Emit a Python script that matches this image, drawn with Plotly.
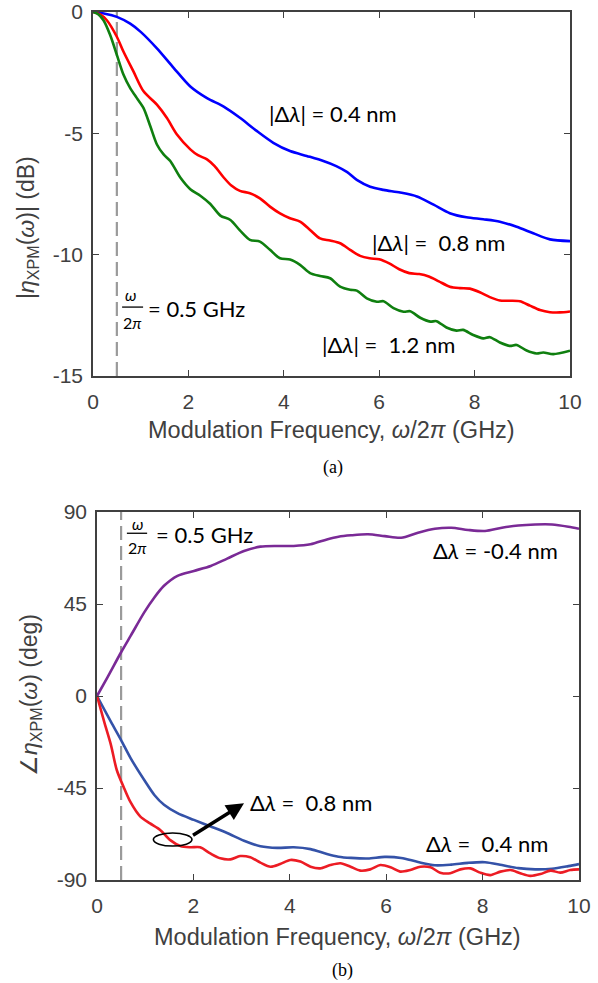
import plotly.graph_objects as go

W, H = 598, 983

# ---------------- data: panel (a) magnitude (dB) ----------------
a_blue_x = [0, 0.25, 0.5, 0.78, 1.0, 1.34, 1.69, 2.04, 2.39, 2.74, 3.08, 3.43, 3.78, 4.13, 4.48, 4.83,
            5.1, 5.33, 5.53, 5.81, 6.09, 6.44, 6.79, 7.14, 7.48, 7.83, 8.18, 8.53, 8.88, 9.23, 9.58, 10]
a_blue_y = [0, -0.07, -0.2, -0.48, -0.82, -1.5, -2.3, -3.07, -3.55, -3.9, -4.36, -4.9, -5.39, -5.73, -5.93, -6.14,
            -6.35, -6.6, -6.92, -7.2, -7.33, -7.44, -7.6, -7.94, -8.29, -8.46, -8.54, -8.64, -8.85, -9.12, -9.37, -9.44]

a_red_x = [0, 0.15, 0.29, 0.5, 0.64, 0.85, 1.06, 1.34, 1.55, 1.76, 2.04, 2.2, 2.39, 2.55, 2.74, 2.9, 3.08,
           3.29, 3.5, 3.71, 3.92, 4.13, 4.34, 4.55, 4.76, 4.97, 5.18, 5.39, 5.6, 5.8, 6.0, 6.21, 6.42, 6.63,
           6.84, 7.04, 7.25, 7.48, 7.69, 7.9, 8.11, 8.32, 8.53, 8.74, 8.95, 9.16, 9.37, 9.58, 9.79, 10]
a_red_y = [0, -0.1, -0.34, -1.02, -1.64, -2.46, -3.27, -3.82, -4.37, -5.05, -5.66, -5.9, -6.07, -6.35, -6.82,
           -7.15, -7.37, -7.47, -7.68, -8.02, -8.3, -8.5, -8.64, -8.98, -9.33, -9.42, -9.53, -9.8, -10.05,
           -10.15, -10.19, -10.36, -10.6, -10.76, -10.8, -10.9, -11.1, -11.32, -11.38, -11.4, -11.55, -11.75,
           -11.89, -11.9, -11.92, -12.1, -12.28, -12.37, -12.38, -12.34]

a_green_x = [0, 0.1, 0.22, 0.36, 0.5, 0.64, 0.78, 0.92, 1.06, 1.2, 1.34, 1.48, 1.62, 1.83, 2.04, 2.25, 2.46,
             2.67, 2.88, 3.08, 3.29, 3.5, 3.71, 3.92, 4.13, 4.34, 4.55, 4.76, 4.97, 5.18, 5.39, 5.53, 5.74,
             5.95, 6.09, 6.3, 6.51, 6.65, 6.86, 7.07, 7.2, 7.41, 7.62, 7.76, 7.97, 8.18, 8.32, 8.53, 8.74,
             8.88, 9.09, 9.3, 9.44, 9.65, 10]
a_green_y = [0, -0.08, -0.34, -0.95, -1.77, -2.59, -3.14, -3.55, -3.96, -4.7, -5.46, -5.87, -6.14, -6.82,
             -7.3, -7.57, -7.91, -8.39, -8.57, -9.0, -9.39, -9.46, -9.8, -10.15, -10.2, -10.42, -10.76,
             -10.88, -10.97, -11.32, -11.45, -11.48, -11.8, -11.94, -11.92, -12.2, -12.35, -12.33, -12.6,
             -12.76, -12.74, -13.0, -13.13, -13.1, -13.31, -13.45, -13.4, -13.62, -13.76, -13.72, -13.95,
             -14.07, -14.03, -14.1, -13.96]

# ---------------- data: panel (b) phase (deg) ----------------
b_purple_x = [0, 0.22, 0.5, 0.7, 0.98, 1.19, 1.39, 1.67, 2.01, 2.36, 2.7, 3.05, 3.39, 3.74, 4.08, 4.43,
              4.77, 5.01, 5.27, 5.62, 5.97, 6.31, 6.66, 7.01, 7.35, 7.7, 8.05, 8.4, 8.74, 9.09, 9.44, 9.78, 10]
b_purple_y = [0, 9.25, 21.4, 29.5, 40.9, 48.2, 53.9, 58.8, 61.2, 63.6, 67.2, 70.9, 73.05, 73.4, 73.4, 74.2,
              76.6, 77.9, 78.6, 79.1, 78.2, 77.4, 79.9, 81.8, 82.3, 81.2, 80.7, 82.3, 83.4, 83.9, 83.9, 82.8, 81.8]

b_blue_x = [0, 0.29, 0.5, 0.7, 0.98, 1.19, 1.39, 1.67, 2.01, 2.36, 2.7, 3.05, 3.39, 3.74, 4.08, 4.43,
            4.77, 5.01, 5.27, 5.62, 5.97, 6.31, 6.66, 7.01, 7.35, 7.7, 8.05, 8.4, 8.74, 9.09, 9.44, 9.78, 10]
b_blue_y = [0, -12.7, -21.6, -30.5, -41.1, -48.4, -53.2, -57.3, -60.6, -63.8, -67, -70.8, -73.5, -74.3, -74,
            -74.9, -77.3, -78.6, -79.2, -79.5, -78.7, -79.2, -81.2, -82.8, -82.5, -81.6, -81.3, -82.7, -84.2,
            -84.8, -84.5, -83.2, -82.2]

b_red_x = [0, 0.15, 0.29, 0.41, 0.55, 0.69, 0.9, 1.1, 1.31, 1.52, 1.73, 1.94, 2.14, 2.35, 2.56, 2.77, 2.97,
           3.18, 3.39, 3.6, 3.8, 4.01, 4.22, 4.43, 4.63, 4.84, 5.05, 5.26, 5.46, 5.67, 5.88, 6.09, 6.29, 6.5,
           6.71, 6.92, 7.12, 7.33, 7.54, 7.75, 7.95, 8.16, 8.37, 8.58, 8.78, 8.99, 9.2, 9.41, 9.61, 9.82, 10]
b_red_y = [0, -12.7, -24, -36.2, -44.4, -51.7, -59, -62.3, -65.5, -70.5, -73.4, -74, -74, -77, -79.4, -79.9,
           -78.3, -78.9, -81.5, -83.5, -82.2, -80.2, -81, -83.5, -84.3, -82.7, -81.8, -83.5, -85.4, -84.8,
           -82.7, -83.8, -85.9, -85.1, -83.5, -83.8, -86.4, -86.7, -84.8, -84.3, -86.4, -87.6, -85.9, -85.1,
           -86.7, -88, -87.1, -85.4, -86.4, -85.1, -84.8]

marker_freq = 0.5
x_ticks = [0, 2, 4, 6, 8, 10]
x_ticktext = ["0", "2", "4", "6", "8", "10"]
a_y_ticks = [0, -5, -10, -15]
a_y_ticktext = ["0", "-5", "-10", "-15"]
b_y_ticks = [90, 45, 0, -45, -90]
b_y_ticktext = ["90", "45", "0", "-45", "-90"]
a_range = [-15, 0]
b_range = [-90, 90]

# ---------------- figure ----------------
fig = go.Figure()
LW = 2.6

def line(x, y, color, xa, ya):
    fig.add_trace(go.Scatter(x=x, y=y, mode="lines", line=dict(color=color, width=LW, shape="spline", smoothing=0.8),
                             xaxis=xa, yaxis=ya, showlegend=False, hoverinfo="skip"))

dash = dict(color="#9a9a9a", width=2.2, dash="14px,6px")
fig.add_trace(go.Scatter(x=[marker_freq, marker_freq], y=a_range, mode="lines", line=dash,
                         xaxis="x", yaxis="y", showlegend=False, hoverinfo="skip"))
fig.add_trace(go.Scatter(x=[marker_freq, marker_freq], y=b_range, mode="lines", line=dash,
                         xaxis="x2", yaxis="y2", showlegend=False, hoverinfo="skip"))

line(a_blue_x, a_blue_y, "#0000ff", "x", "y")
line(a_red_x, a_red_y, "#ff0000", "x", "y")
line(a_green_x, a_green_y, "#0f7f0f", "x", "y")

line(b_purple_x, b_purple_y, "#7a2a96", "x2", "y2")
line(b_blue_x, b_blue_y, "#3452a8", "x2", "y2")
line(b_red_x, b_red_y, "#ec1c24", "x2", "y2")

AX = "#404040"
tickfont = dict(family="Liberation Sans, Arial, sans-serif", size=21, color=AX)
common = dict(showline=True, linecolor=AX, linewidth=1.5, mirror="ticks", ticks="inside", ticklen=6,
              tickwidth=1.3, tickcolor=AX, showgrid=False, zeroline=False, tickfont=tickfont, automargin=False)

fig.update_layout(
    width=W, height=H, margin=dict(l=0, r=0, t=0, b=0),
    paper_bgcolor="white", plot_bgcolor="white",
    xaxis=dict(domain=[93 / W, 570 / W], anchor="y", range=[0, 10], tickvals=x_ticks, ticktext=x_ticktext,
               ticklabelstandoff=6, **common),
    yaxis=dict(domain=[1 - 376 / H, 1 - 12 / H], anchor="x", range=a_range, tickvals=a_y_ticks,
               ticktext=a_y_ticktext, ticklabelstandoff=4, **common),
    xaxis2=dict(domain=[97 / W, 579 / W], anchor="y2", range=[0, 10], tickvals=x_ticks, ticktext=x_ticktext,
                ticklabelstandoff=6, **common),
    yaxis2=dict(domain=[1 - 880 / H, 1 - 512 / H], anchor="x2", range=b_range, tickvals=b_y_ticks,
                ticktext=b_y_ticktext, ticklabelstandoff=4, **common),
)

ann = []
titlefont = dict(family="Liberation Sans, Arial, sans-serif", size=23.5, color=AX)
ytitlefont = dict(family="Liberation Sans, Arial, sans-serif", size=23, color=AX)

def pann(text, px, py, font, angle=0):
    ann.append(dict(text=text, x=px / W, y=1 - py / H, xref="paper", yref="paper", showarrow=False,
                    xanchor="center", yanchor="middle", textangle=angle, font=font))

xt = "Modulation Frequency, <i>ω</i>/2<i>π</i> (GHz)"
pann(xt, 331, 430, titlefont)
pann(xt, 337, 937, titlefont)
pann("|<i>η</i><sub>XPM</sub>(<i>ω</i>)| (dB)", 27, 228, ytitlefont, -90)
pann("∠<i>η</i><sub>XPM</sub>(<i>ω</i>) (deg)", 30, 695, ytitlefont, -90)

serif = dict(family="Liberation Serif, Times New Roman, serif", size=18, color="black")
pann("(a)", 333, 467, serif)
pann("(b)", 343, 970, serif)

lf = dict(family="Lato, Carlito, sans-serif", size=22, color="black")
sf = dict(family="Lato, Carlito, sans-serif", size=16, color="black")
# panel a labels
ann.append(dict(text="|Δ<i>λ</i>| = 0.4 nm", x=5.03, y=-4.2, xref="x", yref="y", showarrow=False, font=lf))
ann.append(dict(text="|Δ<i>λ</i>| =  0.8 nm", x=7.25, y=-9.5, xref="x", yref="y", showarrow=False, font=lf))
ann.append(dict(text="|Δ<i>λ</i>| =  1.2 nm", x=6.2, y=-13.7, xref="x", yref="y", showarrow=False, font=lf))
ann.append(dict(text="<i>ω</i>", x=0.78, y=-11.65, xref="x", yref="y", showarrow=False, font=sf))
ann.append(dict(text="2<i>π</i>", x=0.82, y=-12.8, xref="x", yref="y", showarrow=False, font=sf))
ann.append(dict(text="= 0.5 GHz", x=1.12, y=-12.2, xref="x", yref="y", showarrow=False, font=lf, xanchor="left"))
# panel b labels
ann.append(dict(text="Δ<i>λ</i> = -0.4 nm", x=8.26, y=71, xref="x2", yref="y2", showarrow=False, font=lf))
ann.append(dict(text="Δ<i>λ</i> =  0.8 nm", x=4.44, y=-52, xref="x2", yref="y2", showarrow=False, font=lf))
ann.append(dict(text="Δ<i>λ</i> =  0.4 nm", x=8.1, y=-72, xref="x2", yref="y2", showarrow=False, font=lf))
ann.append(dict(text="<i>ω</i>", x=0.85, y=84.6, xref="x2", yref="y2", showarrow=False, font=sf))
ann.append(dict(text="2<i>π</i>", x=0.85, y=72.8, xref="x2", yref="y2", showarrow=False, font=sf))
ann.append(dict(text="= 0.5 GHz", x=1.18, y=78.8, xref="x2", yref="y2", showarrow=False, font=lf, xanchor="left"))
# arrow
ann.append(dict(text=" ", x=3.05, y=-52.5, ax=1.93, ay=-69, xref="x2", yref="y2", axref="x2", ayref="y2",
                showarrow=True, arrowhead=2, arrowsize=1, arrowwidth=3.5, arrowcolor="black"))
fig.update_layout(annotations=ann)

fig.add_shape(type="circle", xref="x2", yref="y2", x0=1.17, x1=1.97, y0=-73.4, y1=-67,
              line=dict(color="black", width=1.6))
fig.add_shape(type="line", xref="x", yref="y", x0=0.61, x1=1.05, y0=-12.16, y1=-12.16,
              line=dict(color="black", width=1.3))
fig.add_shape(type="line", xref="x2", yref="y2", x0=0.62, x1=1.04, y0=79.6, y1=79.6,
              line=dict(color="black", width=1.3))

fig.write_html("out.html")
